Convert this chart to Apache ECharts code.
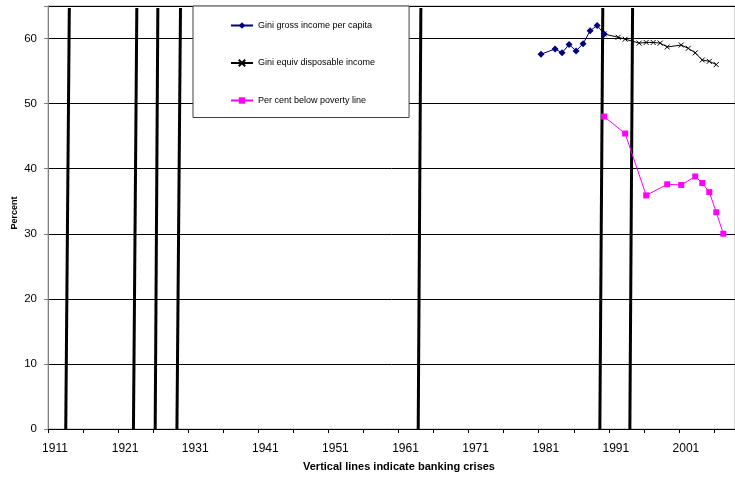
<!DOCTYPE html>
<html>
<head>
<meta charset="utf-8">
<script src="https://cdn.jsdelivr.net/npm/echarts@6/dist/echarts.min.js"></script>
<style>
html,body{margin:0;padding:0;background:#fff;}
#chart{width:735px;height:478px;}
</style>
</head>
<body>
<div id="chart"></div>
<script>
// ---- data ----
const xLabelYears = [1911, 1921, 1931, 1941, 1951, 1961, 1971, 1981, 1991, 2001];
const yTicks = [0, 10, 20, 30, 40, 50, 60];

const giniGrossYears  = [1981, 1983, 1984, 1985, 1986, 1987, 1988, 1989, 1990];
const giniGrossValues = [57.6, 58.4, 57.8, 59.1, 58.1, 59.2, 61.2, 62.0, 60.7];

const giniEquivYears  = [1990, 1992, 1993, 1995, 1996, 1997, 1998, 1999, 2001, 2002, 2003, 2004, 2005, 2006];
const giniEquivValues = [60.7, 60.2, 59.9, 59.3, 59.4, 59.4, 59.3, 58.7, 59.0, 58.5, 57.8, 56.7, 56.5, 56.0];

const povertyYears  = [1990, 1993, 1996, 1999, 2001, 2003, 2004, 2005, 2006, 2007];
const povertyValues = [48.0, 45.4, 35.9, 37.6, 37.5, 38.8, 37.8, 36.4, 33.3, 30.0];

// banking crises: vertical lines (slightly slanted in the original), bottom and top year positions
const crisisBottomYears = [1913.20, 1922.86, 1925.96, 1929.06, 1963.48, 1989.39, 1993.67];
const crisisTopYears    = [1913.71, 1923.34, 1926.34, 1929.57, 1963.86, 1989.81, 1994.06];
const crisisTopValue = 64.7;

const seriesNames = ['Gini gross income per capita', 'Gini equiv disposable income', 'Per cent below poverty line'];

// ---- chart ----
const FONT = '"Liberation Sans", Arial, sans-serif';
const chart = echarts.init(document.getElementById('chart'), null, {renderer: 'canvas'});

const zip = (xs, ys) => xs.map((x, i) => [x, ys[i]]);

const crisisSeries = crisisBottomYears.map((b, i) => ({
  type: 'line',
  name: 'crisis' + i,
  xAxisIndex: 1,
  data: [[b, 0], [crisisTopYears[i], crisisTopValue]],
  symbol: 'none',
  silent: true,
  lineStyle: {color: '#000', width: 3},
  z: 1
}));

const option = {
  animation: false,
  backgroundColor: '#fff',
  textStyle: {fontFamily: FONT},
  grid: {left: 48, right: 0, top: 6, bottom: 49, containLabel: false, outerBoundsMode: 'none',
         show: true, borderColor: '#a8a8a8', borderWidth: 1, backgroundColor: 'transparent'},
  legend: {
    data: seriesNames,
    orient: 'vertical',
    left: 193,
    top: 6,
    padding: [15, 34, 12.5, 37],
    itemGap: 28.5,
    itemWidth: 22,
    itemHeight: 8,
    backgroundColor: '#fff',
    borderColor: '#404040',
    borderWidth: 1,
    textStyle: {fontSize: 9, color: '#000', fontFamily: FONT}
  },
  xAxis: [
    {
      type: 'value',
      min: 1911,
      max: 2009,
      interval: 5,
      name: 'Vertical lines indicate banking crises',
      nameLocation: 'middle',
      nameGap: 32,
      nameMoveOverlap: false,
      nameTextStyle: {fontSize: 11, fontWeight: 'bold', color: '#000', padding: [0, 0, 0, 15]},
      axisLine: {show: true, lineStyle: {color: '#000', width: 1}},
      axisTick: {show: true, length: 4, lineStyle: {color: '#000'}},
      axisLabel: {
        fontSize: 12,
        color: '#000',
        margin: 14,
        padding: [0, 0, 0, 14],
        formatter: v => xLabelYears.includes(v) ? String(v) : ''
      },
      splitLine: {show: false}
    },
    {
      type: 'value',
      min: 1910.67,
      max: 2008.67,
      show: false
    }
  ],
  yAxis: {
    type: 'value',
    min: 0,
    max: 65,
    interval: 10,
    name: 'Percent',
    nameLocation: 'middle',
    nameGap: 28.5,
    nameMoveOverlap: false,
    nameRotate: 90,
    nameTextStyle: {fontSize: 9, fontWeight: 'bold', color: '#000', padding: [0, 0, 0, 9]},
    axisLine: {show: true, lineStyle: {color: '#808080', width: 1}},
    axisTick: {show: true, length: 4, lineStyle: {color: '#808080'}},
    axisLabel: {
      fontSize: 11.5,
      color: '#000',
      margin: 11,
      formatter: v => yTicks.includes(v) ? String(v) : ''
    },
    splitLine: {show: true, lineStyle: {color: '#000', width: 1}}
  },
  series: [
    {
      type: 'line',
      name: seriesNames[0],
      xAxisIndex: 1,
      data: zip(giniGrossYears, giniGrossValues),
      symbol: 'diamond',
      symbolSize: 7,
      color: '#000080',
      lineStyle: {color: '#000080', width: 1},
      itemStyle: {color: '#000080'},
      z: 4
    },
    {
      type: 'line',
      name: seriesNames[1],
      xAxisIndex: 1,
      data: zip(giniEquivYears, giniEquivValues),
      symbol: 'path://M0,0L10,10M10,0L0,10',
      symbolSize: 5,
      color: '#000',
      lineStyle: {color: '#000', width: 1},
      itemStyle: {color: '#000', borderColor: '#000', borderWidth: 1},
      z: 3
    },
    {
      type: 'line',
      name: seriesNames[2],
      xAxisIndex: 1,
      data: zip(povertyYears, povertyValues),
      symbol: 'rect',
      symbolSize: 6,
      color: '#ff00ff',
      lineStyle: {color: '#ff00ff', width: 1},
      itemStyle: {color: '#ff00ff'},
      z: 3
    }
  ].concat(crisisSeries)
};

chart.setOption(option);
</script>
</body>
</html>
